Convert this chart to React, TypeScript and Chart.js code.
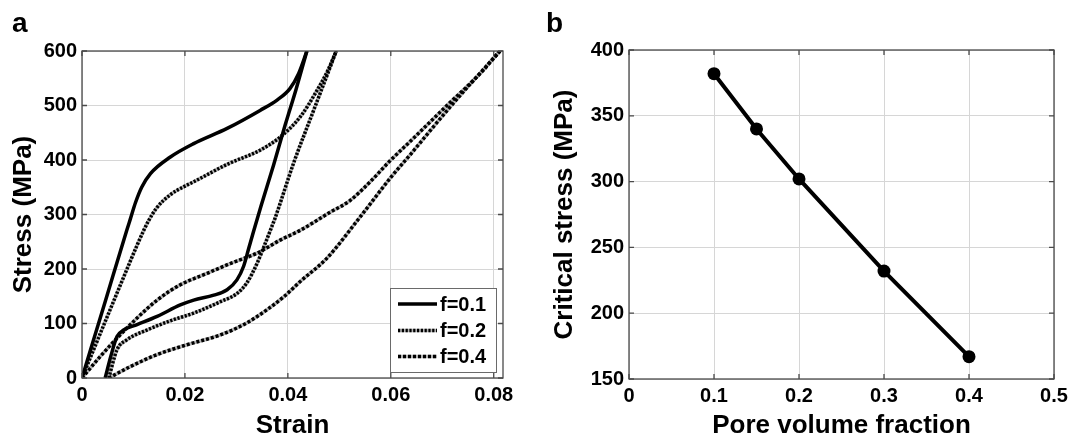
import React, { useEffect, useRef } from 'react';
import { Chart, registerables } from 'chart.js';

Chart.register(...registerables);

const FONT = '"Liberation Sans", Arial, Helvetica, sans-serif';

// ---------- Panel a : stress-strain curves ----------
const strainTicks = [0, 0.02, 0.04, 0.06, 0.08];
const stressTicks = [0, 100, 200, 300, 400, 500, 600];
const legendLabels = ['f=0.1', 'f=0.2', 'f=0.4'];

const f01UpperStrain = [0, 0.0045, 0.0087, 0.0094, 0.0104, 0.0116, 0.0133, 0.0171, 0.0217, 0.0282, 0.0346, 0.0379, 0.0404, 0.0421, 0.0437];
const f01UpperStress = [0, 140, 271, 292, 322, 350, 375, 405, 430, 458, 491, 510, 531, 559, 600];

const f01LowerStrain = [0.0045, 0.0056, 0.0068, 0.0081, 0.0107, 0.0146, 0.0191, 0.0217, 0.0256, 0.0282, 0.0301, 0.0314, 0.0324, 0.0333, 0.0348, 0.0372, 0.0395, 0.0416, 0.0437];
const f01LowerStress = [0, 40, 76, 88, 98, 113, 134, 143, 152, 162, 180, 205, 238, 268, 316, 390, 465, 530, 600];

const f02UpperStrain = [0, 0.0065, 0.012, 0.0129, 0.0145, 0.0171, 0.02, 0.0217, 0.0282, 0.0346, 0.0385, 0.0424, 0.0455, 0.0478, 0.0494];
const f02UpperStress = [0, 149, 271, 288, 312, 336, 352, 360, 392, 418, 442, 479, 525, 565, 600];

const f02LowerStrain = [0.0052, 0.0068, 0.0087, 0.0126, 0.0178, 0.0217, 0.0269, 0.0301, 0.032, 0.034, 0.0356, 0.0366, 0.0375, 0.0411, 0.045, 0.0478, 0.0494];
const f02LowerStress = [0, 52, 70, 88, 107, 119, 140, 155, 174, 210, 247, 271, 293, 394, 491, 560, 600];

const f04UpperStrain = [0, 0.0036, 0.0068, 0.0107, 0.0146, 0.0191, 0.0243, 0.0288, 0.034, 0.0385, 0.0424, 0.0482, 0.052, 0.056, 0.0598, 0.0642, 0.0708, 0.0775, 0.0812];
const f04UpperStress = [0, 40, 73, 110, 143, 171, 192, 210, 229, 253, 271, 304, 325, 360, 398, 438, 499, 560, 600];

const f04LowerStrain = [0.0052, 0.0094, 0.0146, 0.0204, 0.0269, 0.032, 0.0359, 0.0392, 0.0424, 0.0476, 0.054, 0.06, 0.0638, 0.0715, 0.0812];
const f04LowerStress = [0, 21, 43, 61, 79, 101, 125, 149, 177, 220, 295, 368, 410, 497, 600];

// ---------- Panel b : critical stress ----------
const poreTicks = [0, 0.1, 0.2, 0.3, 0.4, 0.5];
const criticalTicks = [150, 200, 250, 300, 350, 400];
const poreFraction = [0.1, 0.15, 0.2, 0.3, 0.4];
const criticalStress = [382, 340, 302, 232, 167];

const pts = (xs: number[], ys: number[]) => xs.map((x, i) => ({ x, y: ys[i] }));
const fmt = (v: number) => (v === 0 ? '0' : String(parseFloat(Number(v).toFixed(3))));

const DASH02 = [2.2, 1.6];
const DASH04 = [3, 2];
const GRAY = '#b4b4b4';
const LW = 3.5;

const framePlugin = {
  id: 'frameBox',
  afterDatasetsDraw(chart: any) {
    const { ctx, chartArea, scales } = chart;
    const { left, right, top, bottom } = chartArea;
    ctx.save();
    ctx.strokeStyle = '#4a4a4a';
    ctx.lineWidth = 1.3;
    const tl = 5;
    ctx.beginPath();
    scales.x.ticks.forEach((t: any) => {
      const px = scales.x.getPixelForValue(t.value);
      ctx.moveTo(px, bottom);
      ctx.lineTo(px, bottom - tl);
      ctx.moveTo(px, top);
      ctx.lineTo(px, top + tl);
    });
    scales.y.ticks.forEach((t: any) => {
      const py = scales.y.getPixelForValue(t.value);
      ctx.moveTo(left, py);
      ctx.lineTo(left + tl, py);
      ctx.moveTo(right, py);
      ctx.lineTo(right - tl, py);
    });
    ctx.stroke();
    ctx.strokeRect(left, top, right - left, bottom - top);
    ctx.restore();
  },
};

const boxLegendPlugin = {
  id: 'boxLegend',
  afterDatasetsDraw(chart: any) {
    const { ctx, chartArea } = chart;
    const w = 106;
    const h = 84;
    const x0 = chartArea.right - 7 - w;
    const y0 = chartArea.bottom - 6 - h;
    ctx.save();
    ctx.fillStyle = '#ffffff';
    ctx.fillRect(x0, y0, w, h);
    ctx.strokeStyle = '#6a6a6a';
    ctx.lineWidth = 1;
    ctx.strokeRect(x0 + 0.5, y0 + 0.5, w, h);
    const rows = [16, 42.4, 68.4];
    const dashes: (number[] | null)[] = [null, DASH02, DASH04];
    rows.forEach((ry, i) => {
      const y = y0 + ry;
      const dash = dashes[i];
      if (dash) {
        ctx.setLineDash([]);
        ctx.strokeStyle = GRAY;
        ctx.lineWidth = LW;
        ctx.beginPath();
        ctx.moveTo(x0 + 8, y);
        ctx.lineTo(x0 + 47, y);
        ctx.stroke();
        ctx.setLineDash(dash);
      } else {
        ctx.setLineDash([]);
      }
      ctx.strokeStyle = '#000';
      ctx.lineWidth = LW;
      ctx.lineCap = 'butt';
      ctx.beginPath();
      ctx.moveTo(x0 + 8, y);
      ctx.lineTo(x0 + 47, y);
      ctx.stroke();
      ctx.setLineDash([]);
      ctx.fillStyle = '#000';
      ctx.font = `bold 20px ${FONT}`;
      ctx.textBaseline = 'middle';
      ctx.textAlign = 'left';
      ctx.fillText(legendLabels[i], x0 + 50, y + 1);
    });
    ctx.restore();
  },
};

const tickFont = { family: FONT, size: 20, weight: 'bold' as const };
const titleFont = { family: FONT, size: 26, weight: 'bold' as const, lineHeight: 1.2 };

function solid(data: any) {
  return {
    data,
    borderColor: '#000',
    borderWidth: LW,
    pointRadius: 0,
    cubicInterpolationMode: 'monotone' as const,
    fill: false,
    order: 1,
  };
}
function dotted(data: any, dash: number[]) {
  return [
    {
      data,
      borderColor: '#000',
      borderWidth: LW,
      borderDash: dash,
      borderCapStyle: 'butt' as const,
      pointRadius: 0,
      cubicInterpolationMode: 'monotone' as const,
      fill: false,
      order: 1,
    },
    {
      data,
      borderColor: GRAY,
      borderWidth: LW,
      pointRadius: 0,
      cubicInterpolationMode: 'monotone' as const,
      fill: false,
      order: 2,
    },
  ];
}

function PanelA() {
  const ref = useRef<HTMLCanvasElement>(null);
  useEffect(() => {
    const chart = new Chart(ref.current!, {
      type: 'line',
      data: {
        datasets: [
          solid(pts(f01UpperStrain, f01UpperStress)),
          solid(pts(f01LowerStrain, f01LowerStress)),
          ...dotted(pts(f02UpperStrain, f02UpperStress), DASH02),
          ...dotted(pts(f02LowerStrain, f02LowerStress), DASH02),
          ...dotted(pts(f04UpperStrain, f04UpperStress), DASH04),
          ...dotted(pts(f04LowerStrain, f04LowerStress), DASH04),
        ] as any,
      },
      options: {
        responsive: false,
        animation: false,
        devicePixelRatio: 1,
        layout: { padding: { left: 12, top: 0, right: 34, bottom: 0 } },
        plugins: {
          legend: { display: false },
          tooltip: { enabled: false },
          title: {
            display: true,
            text: 'a',
            align: 'start',
            color: '#000',
            font: { family: FONT, size: 28, weight: 'bold', lineHeight: 1.2 },
            padding: { top: 7, bottom: 10.4 },
          },
        },
        scales: {
          x: {
            type: 'linear',
            min: 0,
            max: 0.0818,
            afterBuildTicks: (s: any) => {
              s.ticks = strainTicks.map((v) => ({ value: v }));
            },
            afterFit: (s: any) => {
              s.height = 63;
            },
            grid: { color: '#d6d6d6', drawTicks: false, lineWidth: 1 },
            border: { display: false },
            ticks: {
              padding: 5,
              color: '#000',
              font: tickFont,
              maxRotation: 0,
              autoSkip: false,
              callback: (v: any) => fmt(Number(v)),
            },
            title: {
              display: true,
              text: 'Strain',
              color: '#000',
              font: titleFont,
              padding: { top: 0, bottom: 0 },
            },
          },
          y: {
            type: 'linear',
            min: 0,
            max: 600,
            afterBuildTicks: (s: any) => {
              s.ticks = stressTicks.map((v) => ({ value: v }));
            },
            afterFit: (s: any) => {
              s.width = 70;
            },
            grid: { color: '#d6d6d6', drawTicks: false, lineWidth: 1 },
            border: { display: false },
            ticks: {
              padding: 5,
              color: '#000',
              font: tickFont,
              autoSkip: false,
              callback: (v: any) => String(v),
            },
            title: {
              display: true,
              text: 'Stress (MPa)',
              color: '#000',
              font: { family: FONT, size: 26, weight: 'bold', lineHeight: 0.92 },
              padding: { top: 0, bottom: 0 },
            },
          },
        },
      } as any,
      plugins: [framePlugin, boxLegendPlugin],
    });
    return () => chart.destroy();
  }, []);
  return <canvas ref={ref} width={537} height={441} style={{ display: 'block' }} />;
}

function PanelB() {
  const ref = useRef<HTMLCanvasElement>(null);
  useEffect(() => {
    const chart = new Chart(ref.current!, {
      type: 'line',
      data: {
        datasets: [
          {
            data: pts(poreFraction, criticalStress),
            borderColor: '#000',
            backgroundColor: '#000',
            borderWidth: 4,
            pointRadius: 6.5,
            pointBackgroundColor: '#000',
            pointBorderColor: '#000',
            pointBorderWidth: 0,
            fill: false,
            tension: 0,
          },
        ] as any,
      },
      options: {
        responsive: false,
        animation: false,
        devicePixelRatio: 1,
        layout: { padding: { left: 9, top: 0, right: 19, bottom: 0 } },
        plugins: {
          legend: { display: false },
          tooltip: { enabled: false },
          title: {
            display: true,
            text: 'b',
            align: 'start',
            color: '#000',
            font: { family: FONT, size: 28, weight: 'bold', lineHeight: 1.2 },
            padding: { top: 7, bottom: 9.4 },
          },
        },
        scales: {
          x: {
            type: 'linear',
            min: 0,
            max: 0.5,
            afterBuildTicks: (s: any) => {
              s.ticks = poreTicks.map((v) => ({ value: v }));
            },
            afterFit: (s: any) => {
              s.height = 62;
            },
            grid: { color: '#d6d6d6', drawTicks: false, lineWidth: 1 },
            border: { display: false },
            ticks: {
              padding: 5,
              color: '#000',
              font: tickFont,
              maxRotation: 0,
              autoSkip: false,
              callback: (v: any) => fmt(Number(v)),
            },
            title: {
              display: true,
              text: 'Pore volume fraction',
              color: '#000',
              font: titleFont,
              padding: { top: 0, bottom: 0 },
            },
          },
          y: {
            type: 'linear',
            min: 150,
            max: 400,
            afterBuildTicks: (s: any) => {
              s.ticks = criticalTicks.map((v) => ({ value: v }));
            },
            afterFit: (s: any) => {
              s.width = 83;
            },
            grid: { color: '#d6d6d6', drawTicks: false, lineWidth: 1 },
            border: { display: false },
            ticks: {
              padding: 5,
              color: '#000',
              font: tickFont,
              autoSkip: false,
              callback: (v: any) => String(v),
            },
            title: {
              display: true,
              text: 'Critical stress (MPa)',
              color: '#000',
              font: titleFont,
              padding: { top: 3, bottom: 0 },
            },
          },
        },
      } as any,
      plugins: [framePlugin],
    });
    return () => chart.destroy();
  }, []);
  return <canvas ref={ref} width={536} height={441} style={{ display: 'block' }} />;
}

export default function App() {
  return (
    <div
      style={{
        position: 'absolute',
        left: 0,
        top: 0,
        width: 1073,
        height: 441,
        background: '#fff',
        overflow: 'hidden',
      }}
    >
      <div style={{ position: 'absolute', left: 0, top: 0 }}>
        <PanelA />
      </div>
      <div style={{ position: 'absolute', left: 537, top: 0 }}>
        <PanelB />
      </div>
    </div>
  );
}
